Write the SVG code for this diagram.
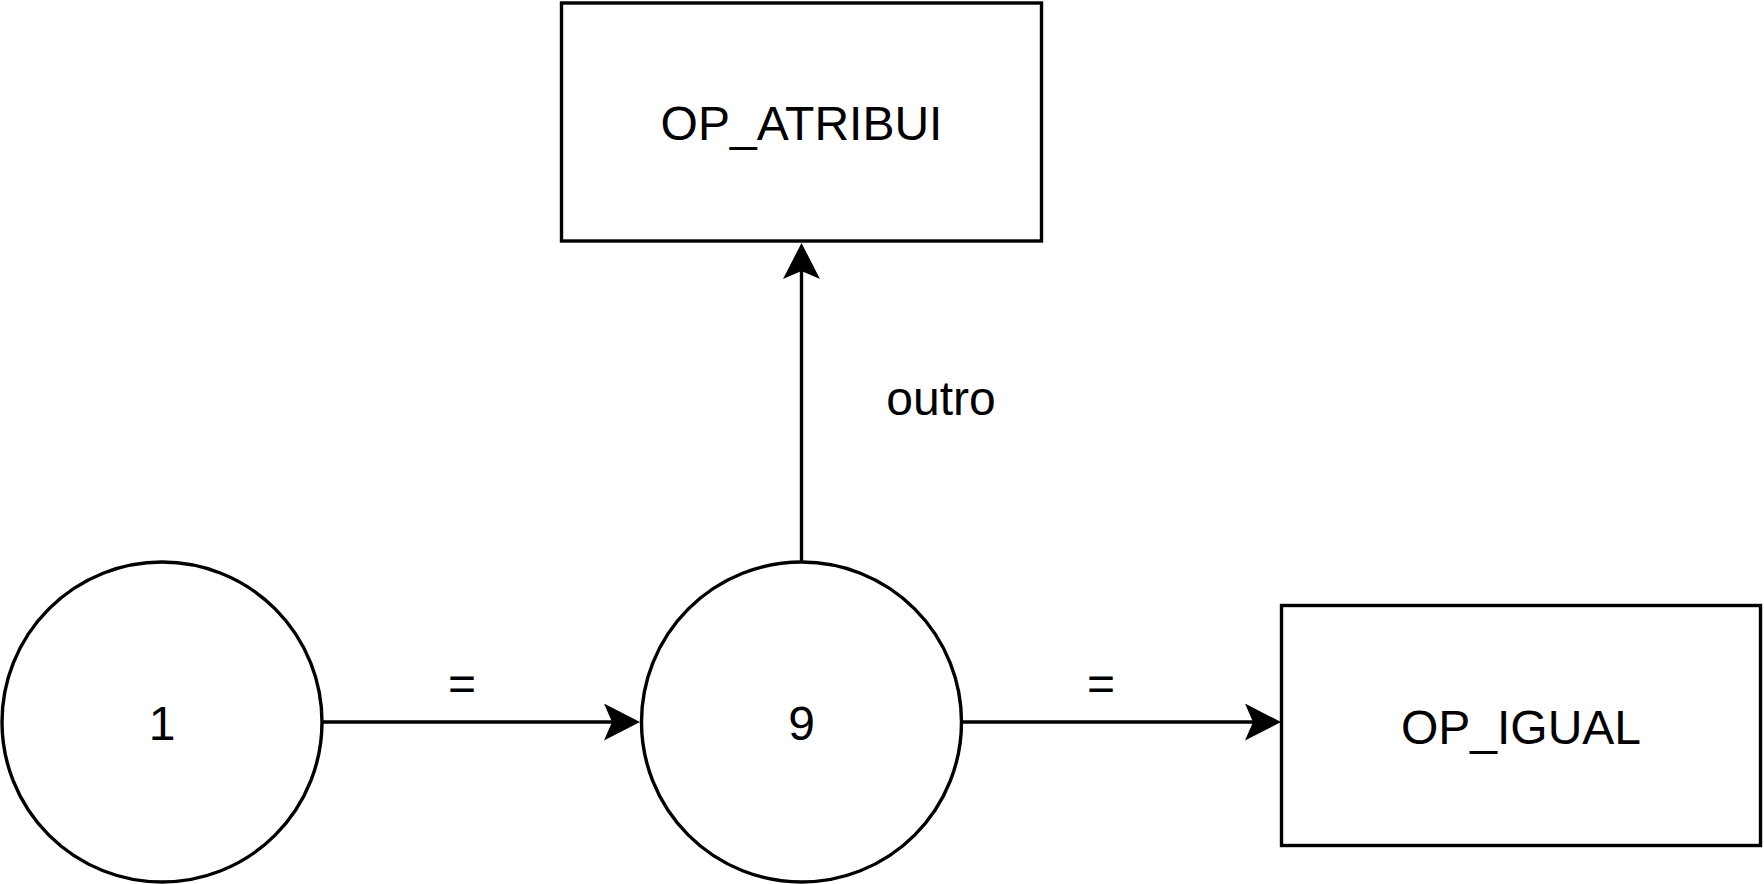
<svg xmlns="http://www.w3.org/2000/svg" width="1764" height="884" viewBox="0 0 1764 884">
<style>
.shape{fill:#ffffff;stroke:#000000;stroke-width:3.4}
.edge{fill:none;stroke:#000000;stroke-width:3.4}
.lbl{font-family:"Liberation Sans",Arial,sans-serif;font-size:48px;fill:#000000;text-anchor:middle}
</style>
<defs>
<marker id="arrow" markerUnits="userSpaceOnUse" viewBox="0 0 36 37" markerWidth="36" markerHeight="37" refX="8" refY="18.5" orient="auto">
<path d="M0,0 L36,18.5 L0,37 L8,18.5 Z" fill="#000000"/>
</marker>
</defs>
<rect width="1764" height="884" fill="#ffffff"/>
<g id="connectors">
<line class="edge" x1="322" y1="722" x2="612" y2="722" marker-end="url(#arrow)"/>
<line class="edge" x1="962" y1="722" x2="1253" y2="722" marker-end="url(#arrow)"/>
<line class="edge" x1="801.5" y1="562" x2="801.5" y2="271" marker-end="url(#arrow)"/>
<text class="lbl" x="462" y="700">=</text>
<text class="lbl" x="1101" y="700">=</text>
<text class="lbl" x="941" y="415">outro</text>
</g>
<g id="node-1">
<circle class="shape" cx="162" cy="722" r="160"/>
<text class="lbl" x="162" y="740">1</text>
</g>
<g id="node-9">
<circle class="shape" cx="801.5" cy="722" r="160"/>
<text class="lbl" x="801.5" y="740">9</text>
</g>
<g id="node-op-atribui">
<rect class="shape" x="561.5" y="3" width="480" height="238"/>
<text class="lbl" x="801.5" y="140">OP_ATRIBUI</text>
</g>
<g id="node-op-igual">
<rect class="shape" x="1281.5" y="605.5" width="479" height="240"/>
<text class="lbl" x="1521" y="744">OP_IGUAL</text>
</g>
</svg>
